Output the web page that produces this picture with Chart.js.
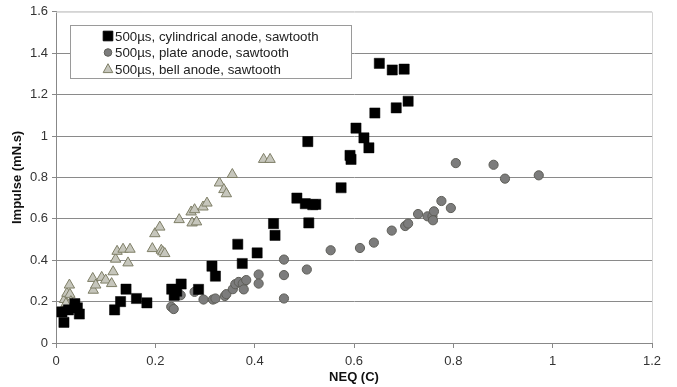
<!DOCTYPE html>
<html>
<head>
<meta charset="utf-8">
<script src="https://cdn.jsdelivr.net/npm/chart.js@4/dist/chart.umd.min.js"></script>
<style>
  html, body { margin: 0; padding: 0; background: #fff; }
  #wrap { width: 677px; height: 387px; }
</style>
</head>
<body>
<div id="wrap"><canvas id="myChart" width="677" height="387"></canvas></div>
<script>
// values
const cylX = [0.012, 0.016, 0.025, 0.038, 0.043, 0.047, 0.118, 0.13, 0.141, 0.162, 0.183,
  0.233, 0.238, 0.243, 0.252, 0.287, 0.314, 0.321, 0.366, 0.375, 0.405, 0.438, 0.441,
  0.485, 0.502, 0.509, 0.517, 0.523, 0.507, 0.574, 0.592, 0.594, 0.604, 0.62, 0.63,
  0.642, 0.651, 0.677, 0.701, 0.685, 0.709];
const cylY = [0.15, 0.10, 0.16, 0.19, 0.17, 0.14, 0.16, 0.20, 0.26, 0.215, 0.194,
  0.26, 0.23, 0.25, 0.285, 0.259, 0.371, 0.323, 0.477, 0.384, 0.435, 0.577, 0.52,
  0.70, 0.673, 0.58, 0.668, 0.67, 0.973, 0.75, 0.906, 0.887, 1.038, 0.991, 0.943,
  1.111, 1.351, 1.319, 1.323, 1.136, 1.168];

const plateX = [0.232, 0.237, 0.251, 0.279, 0.297, 0.316, 0.321, 0.34, 0.343, 0.356, 0.361,
  0.368, 0.376, 0.383, 0.378, 0.408, 0.408, 0.459, 0.459, 0.459, 0.505, 0.553, 0.612,
  0.64, 0.676, 0.703, 0.709, 0.729, 0.748, 0.758, 0.761, 0.759, 0.776, 0.795, 0.805,
  0.881, 0.904, 0.972];
const plateY = [0.175, 0.164, 0.231, 0.247, 0.21, 0.21, 0.215, 0.227, 0.236, 0.26, 0.284,
  0.295, 0.287, 0.304, 0.259, 0.331, 0.287, 0.403, 0.328, 0.215, 0.355, 0.448, 0.459,
  0.485, 0.543, 0.565, 0.577, 0.623, 0.612, 0.612, 0.636, 0.593, 0.686, 0.652, 0.869,
  0.861, 0.794, 0.81];

const bellX = [0.017, 0.022, 0.027, 0.028, 0.03, 0.032, 0.04, 0.02, 0.074, 0.075, 0.08,
  0.092, 0.10, 0.112, 0.115, 0.12, 0.123, 0.135, 0.149, 0.145, 0.194, 0.199, 0.209,
  0.212, 0.215, 0.219, 0.248, 0.272, 0.279, 0.274, 0.283, 0.296, 0.304, 0.329, 0.338,
  0.343, 0.355, 0.418, 0.431];
const bellY = [0.21, 0.24, 0.28, 0.235, 0.2, 0.175, 0.17, 0.19, 0.312, 0.255, 0.28,
  0.317, 0.304, 0.287, 0.344, 0.405, 0.443, 0.453, 0.453, 0.387, 0.456, 0.528, 0.56,
  0.448, 0.44, 0.432, 0.596, 0.633, 0.644, 0.58, 0.585, 0.657, 0.676, 0.773, 0.741,
  0.721, 0.814, 0.887, 0.887];

const seriesNames = ['500µs, cylindrical anode, sawtooth', '500µs, plate anode, sawtooth', '500µs, bell anode, sawtooth'];

function toPoints(xs, ys){
  let pts = [];
  for(let i=0; i<xs.length; i++){
    pts.push({x: xs[i], y: ys[i]});
  }
  return pts;
}

function drawMarker(ctx, style, x, y, r, fill, stroke){
  ctx.save();
  ctx.fillStyle = fill;
  ctx.strokeStyle = stroke;
  ctx.lineWidth = 1;
  ctx.beginPath();
  if(style === 'rect'){
    ctx.rect(x - r, y - r, 2*r, 2*r);
  } else if(style === 'circle'){
    ctx.arc(x, y, r, 0, Math.PI*2);
  } else {
    ctx.moveTo(x, y - r*1.1);
    ctx.lineTo(x + r, y + r*0.75);
    ctx.lineTo(x - r, y + r*0.75);
    ctx.closePath();
  }
  ctx.fill();
  ctx.stroke();
  ctx.restore();
}

// plot frame (light top/right edges) and boxed legend inside the plot
const framePlugin = {
  id: 'frame',
  beforeDatasetsDraw(chart){
    const {ctx, chartArea: a} = chart;
    ctx.save();
    ctx.strokeStyle = '#d4d4d4';
    ctx.lineWidth = 1;
    ctx.beginPath();
    ctx.moveTo(a.left, a.top + 0.5);
    ctx.lineTo(a.right + 0.5, a.top + 0.5);
    ctx.lineTo(a.right + 0.5, a.bottom);
    ctx.stroke();
    ctx.restore();
  },
  afterDatasetsDraw(chart){
    const ctx = chart.ctx;
    const bx = 70, by = 25, bw = 281, bh = 53;
    ctx.save();
    ctx.fillStyle = '#fff';
    ctx.fillRect(bx, by, bw, bh);
    ctx.strokeStyle = '#9a9a9a';
    ctx.lineWidth = 1;
    ctx.strokeRect(bx + 0.5, by + 0.5, bw, bh);
    ctx.font = '13.3px "Liberation Sans", Arial, sans-serif';
    ctx.fillStyle = '#222';
    ctx.textBaseline = 'middle';
    chart.data.datasets.forEach((ds, i) => {
      let yy = by + 11 + i*16.5;
      let r = ds.pointStyle === 'rect' ? 4.8 : (ds.pointStyle === 'circle' ? 3.8 : 4.8);
      drawMarker(ctx, ds.pointStyle, 108, yy, r, ds.backgroundColor, ds.borderColor);
      ctx.fillText(seriesNames[i], 115, yy + 1);
    });
    ctx.restore();
  }
};

const ctx = document.getElementById('myChart').getContext('2d');
const tickFont = {family: '"Liberation Sans", Arial, sans-serif', size: 13};
const titleFont = {family: '"Liberation Sans", Arial, sans-serif', size: 13, weight: 'bold'};

const scatterChart = new Chart(ctx, {
  type: 'scatter',
  data: {
    datasets: [{
      label: seriesNames[0],
      data: toPoints(cylX, cylY),
      pointStyle: 'rect',
      pointRadius: 7.2,
      backgroundColor: '#000000',
      borderColor: '#000000',
      borderWidth: 0.5
    },{
      label: seriesNames[1],
      data: toPoints(plateX, plateY),
      pointStyle: 'circle',
      pointRadius: 4.6,
      backgroundColor: '#7c7c7c',
      borderColor: '#5e5e58',
      borderWidth: 1
    },{
      label: seriesNames[2],
      data: toPoints(bellX, bellY),
      pointStyle: 'triangle',
      pointRadius: 6,
      backgroundColor: '#c6c6bc',
      borderColor: '#7e7e66',
      borderWidth: 1
    }]
  },
  options: {
    responsive: false,
    animation: false,
    layout: {padding: {left: 0, right: 25, top: 11, bottom: 0}},
    plugins: {legend: {display: false}, tooltip: {enabled: false}},
    scales: {
      x: {
        type: 'linear',
        min: 0, max: 1.2,
        ticks: {stepSize: 0.2, color: '#333', font: tickFont, padding: 6,
          callback: v => String(+v.toFixed(1))},
        grid: {drawOnChartArea: false, tickColor: '#888', tickLength: 5},
        border: {color: '#888'},
        title: {display: true, text: 'NEQ (C)', color: '#111', font: titleFont, padding: {top: 0, bottom: 2}},
        afterFit: s => { s.height = 44; }
      },
      y: {
        type: 'linear',
        min: 0, max: 1.6,
        ticks: {stepSize: 0.2, color: '#333', font: tickFont, padding: 4,
          callback: v => String(+v.toFixed(1))},
        grid: {
          color: c => (c.tick && c.tick.value >= 1.59) ? '#d4d4d4' : '#8a8a8a',
          tickColor: '#888', tickLength: 4
        },
        border: {color: '#888'},
        title: {display: true, text: 'Impulse (mN.s)', color: '#111', font: titleFont, padding: {top: 10, bottom: 0}},
        afterFit: s => { s.width = 56; }
      }
    }
  },
  plugins: [framePlugin]
});
</script>
</body>
</html>
